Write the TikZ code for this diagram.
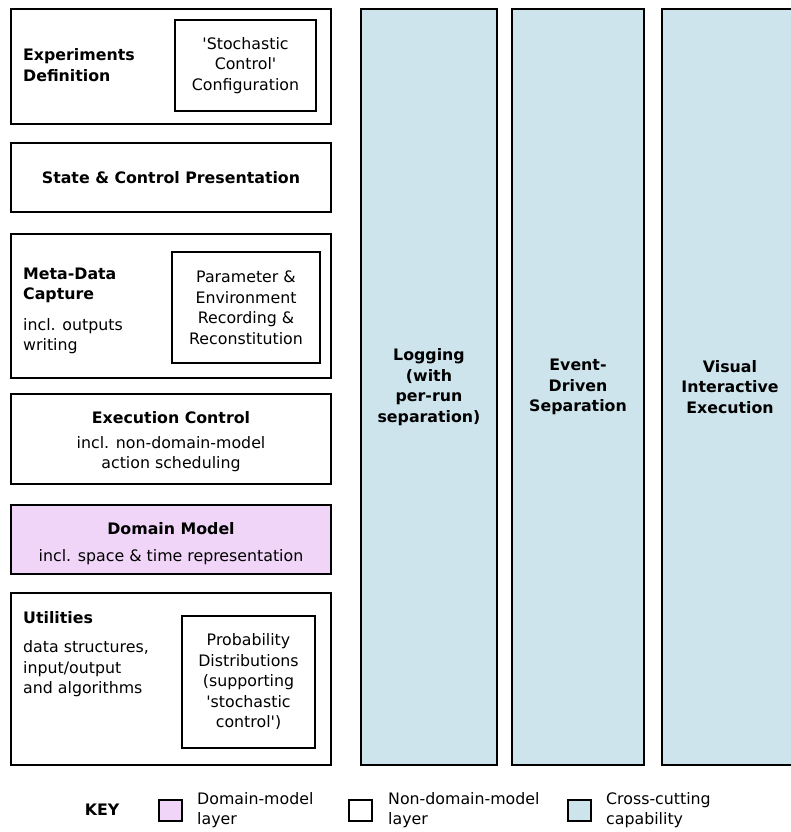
\documentclass[tikz,border=0pt]{standalone}
\usepackage{fontspec}
\setmainfont{DejaVu Sans}[Ligatures=TeXOff]
\definecolor{domainpink}{RGB}{240,213,248}
\definecolor{crossblue}{RGB}{205,228,236}
\newcommand\diagfont{\fontsize{15.8}{20.5}\selectfont}
\tikzset{
    layer/.style={draw, line width=2pt, minimum width=320pt, inner sep=0pt},
    subbox/.style={draw, line width=2pt, inner sep=0pt, align=center, font=\diagfont},
    capability/.style={draw, line width=2pt, fill=crossblue, minimum width=136pt, minimum height=756pt, align=center, font=\diagfont\bfseries},
    heading/.style={align=left, anchor=west, inner sep=0pt, font=\diagfont\bfseries},
    plain/.style={align=left, anchor=west, inner sep=0pt, font=\diagfont},
    keybox/.style={draw, line width=2pt, minimum width=23pt, minimum height=21pt, inner sep=0pt}
}
\begin{document}
\begin{tikzpicture}[x=1pt, y=-1pt]
    \useasboundingbox (0,0) rectangle (791,832);

    % layers
    \node[layer, minimum height=115pt] (experiments) at (171,66.5) {};
    \node[subbox, minimum width=141pt, minimum height=91pt] (stochconfig) at (245.5,65.5) {'Stochastic\\Control'\\Configuration};
    \node[heading] (experimentstitle) at (23,65) {Experiments\\Definition};

    \node[layer, minimum height=69pt, font=\diagfont\bfseries] (presentation) at (171,177.5) {State \& Control Presentation};

    \node[layer, minimum height=144pt] (metadata) at (171,306) {};
    \node[subbox, minimum width=148pt, minimum height=111pt] (paramenv) at (246,307.5) {Parameter \&\\Environment\\Recording \&\\Reconstitution};
    \node[heading] (metadatatitle) at (23,285.5) {Meta-Data\\Capture};
    \node[plain] (metadatanote) at (23,336) {incl. outputs\\writing};

    \node[layer, minimum height=90pt] (execution) at (171,439) {};
    \node[inner sep=0pt, font=\diagfont\bfseries] (executiontitle) at (171,418) {Execution Control};
    \node[inner sep=0pt, align=center, font=\diagfont] (executionnote) at (171,454) {incl. non-domain-model\\action scheduling};

    \node[layer, minimum height=69pt, fill=domainpink] (domain) at (171,539.5) {};
    \node[inner sep=0pt, font=\diagfont\bfseries] (domaintitle) at (171,529) {Domain Model};
    \node[inner sep=0pt, font=\diagfont] (domainnote) at (171,557) {incl. space \& time representation};

    \node[layer, minimum height=172pt] (utilities) at (171,679) {};
    \node[subbox, minimum width=133pt, minimum height=132pt] (probability) at (248.5,682) {Probability\\Distributions\\(supporting\\'stochastic\\control')};
    \node[heading] (utilitiestitle) at (23,618) {Utilities};
    \node[plain] (utilitiesnote) at (23,669) {data structures,\\input/output\\and algorithms};

    % cross-cutting capabilities
    \node[capability] (logging) at (429,387) {Logging\\(with\\per-run\\separation)};
    \node[capability, minimum width=132pt] (eventdriven) at (578,387) {Event-\\Driven\\Separation};
    \node[capability] (visual) at (730,387) {Visual\\Interactive\\Execution};

    % key
    \node[inner sep=0pt, font=\diagfont\bfseries] (keytitle) at (102,810) {KEY};
    \node[keybox, fill=domainpink] (keydomain) at (170,810) {};
    \node[plain, anchor=west] (keydomaintext) at (197,810) {Domain-model\\layer};
    \node[keybox] (keynondomain) at (360.5,810.5) {};
    \node[plain, anchor=west] (keynondomaintext) at (388,810) {Non-domain-model\\layer};
    \node[keybox, fill=crossblue] (keycross) at (579,810.5) {};
    \node[plain, anchor=west] (keycrosstext) at (606,810) {Cross-cutting\\capability};
\end{tikzpicture}
\end{document}
